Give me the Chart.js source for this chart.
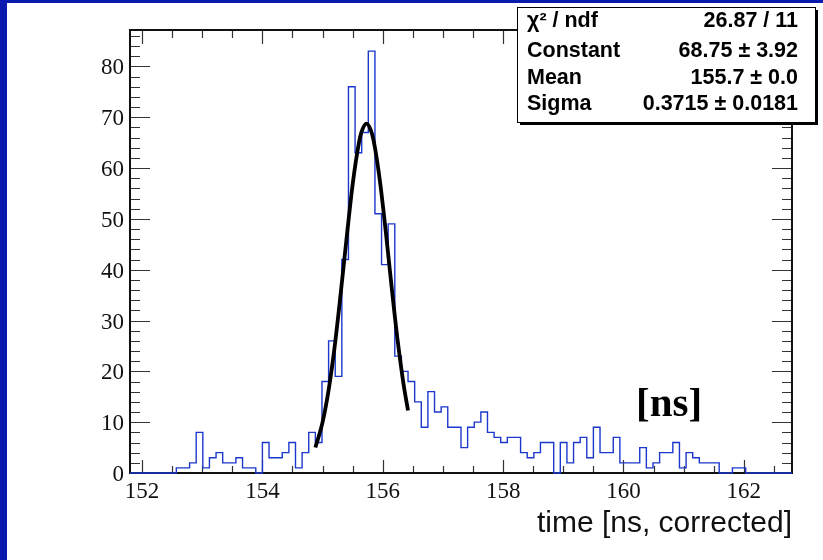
<!DOCTYPE html>
<html>
<head>
<meta charset="utf-8">
<script src="https://cdn.jsdelivr.net/npm/chart.js@4.4.1/dist/chart.umd.min.js"></script>
<style>
  html, body { margin: 0; padding: 0; }
  body { width: 823px; height: 560px; background: #0a1aae; position: relative; overflow: hidden; }
  #wrap { position: absolute; left: 7px; top: 3px; width: 816px; height: 557px; background: #fff; }
</style>
</head>
<body>
<div id="wrap"><canvas id="myChart" width="816" height="557"></canvas></div>
<script>
// histogram: 100 bins from 151.8, width 0.11 ns
const binLow = 151.8;
const binWidth = 0.11;
const counts = [
  0, 0, 0, 0, 0, 0, 0, 1, 1, 2,
  8, 1, 3, 4, 2, 2, 3, 1, 1, 0,
  6, 3, 3, 4, 6, 1, 4, 8, 6, 18,
  26, 19, 42, 76, 63, 67, 83, 51, 41, 49,
  23, 20, 18, 14, 9, 16, 12, 13, 9, 9,
  5, 9, 10, 12, 8, 7, 6, 7, 7, 4,
  3, 4, 6, 6, 0, 6, 2, 6, 7, 3,
  9, 4, 4, 7, 2, 2, 2, 5, 1, 2,
  4, 4, 6, 1, 4, 3, 2, 2, 2, 0,
  0, 1, 1, 0, 0, 0, 0, 0, 0, 0
];

// gaussian fit curve
const fitX = [154.88, 155.0, 155.1, 155.2, 155.3, 155.4, 155.5, 155.6, 155.65, 155.73, 155.8, 155.85, 155.95, 156.05, 156.15, 156.25, 156.35, 156.42];
const fitY = [5.0, 10.0, 16.3, 24.8, 35.2, 46.3, 56.8, 64.7, 67.2, 68.75, 67.5, 65.3, 57.7, 47.5, 36.3, 25.8, 17.1, 12.3];

const xTickValues = [152, 154, 156, 158, 160, 162];
const yTickValues = [0, 10, 20, 30, 40, 50, 60, 70, 80];

const statsLabels = ['\u03C7\u00B2 / ndf', 'Constant', 'Mean', 'Sigma'];
const statsValues = ['26.87 / 11', '68.75 \u00B1 3.92', '155.7 \u00B1 0.0', '0.3715 \u00B1 0.0181'];

const xTitle = 'time [ns, corrected]';
const unitLabel = '[ns]';

const xMin = binLow;
const xMax = binLow + counts.length * binWidth;
const yMax = Math.max(...counts) * 1.05;

let histPoints = counts.map((c, i) => ({x: binLow + i * binWidth, y: c}));
histPoints.push({x: xMax, y: counts[counts.length - 1]});
let fitPoints = fitX.map((x, i) => ({x: x, y: fitY[i]}));

// ROOT style frame with inward ticks on all four sides
const framePlugin = {
    id: 'frame',
    beforeDatasetsDraw(chart) {
        const {ctx, chartArea: a, scales} = chart;
        const xs = scales.x, ys = scales.y;
        ctx.save();
        ctx.strokeStyle = '#333';
        ctx.lineWidth = 1.2;
        ctx.beginPath();
        for (let v = 0; v <= yMax; v += 2) {
            const py = Math.round(ys.getPixelForValue(v)) + 0.5;
            const len = (v % 10 === 0) ? 20 : 10;
            ctx.moveTo(a.left, py); ctx.lineTo(a.left + len, py);
            ctx.moveTo(a.right, py); ctx.lineTo(a.right - len, py);
        }
        for (let k = Math.ceil(xMin * 2); k <= Math.floor(xMax * 2); k++) {
            const px = Math.round(xs.getPixelForValue(k / 2)) + 0.5;
            const major = (k % 4 === 0);
            ctx.moveTo(px, a.bottom); ctx.lineTo(px, a.bottom - (major ? 13 : 7));
            ctx.moveTo(px, a.top); ctx.lineTo(px, a.top + (major ? 14 : 8));
        }
        ctx.stroke();
        ctx.lineWidth = 2;
        ctx.strokeStyle = '#111';
        ctx.strokeRect(a.left, a.top, a.right - a.left, a.bottom - a.top);
        ctx.restore();
    },
    afterDraw(chart) {
        const ctx = chart.ctx;
        ctx.save();
        // unit label
        ctx.fillStyle = '#000';
        ctx.font = 'bold 41px "Liberation Serif"';
        ctx.textBaseline = 'alphabetic';
        ctx.textAlign = 'left';
        ctx.fillText(unitLabel, 629, 413);

        // stats box
        const bx = 510, by = 4, bw = 298, bh = 115;
        ctx.fillStyle = '#000';
        ctx.fillRect(bx + 3, by + 3, bw, bh);
        ctx.fillStyle = '#fff';
        ctx.fillRect(bx, by, bw, bh);
        ctx.strokeStyle = '#000';
        ctx.lineWidth = 1;
        ctx.strokeRect(bx + 0.5, by + 0.5, bw, bh);
        ctx.fillStyle = '#000';
        ctx.font = 'bold 21.5px "Liberation Sans"';
        const rows = [24, 54, 81, 107];
        statsLabels.forEach((t, i) => {
            ctx.textAlign = 'left';
            ctx.fillText(t, 520, rows[i]);
            ctx.textAlign = 'right';
            ctx.fillText(statsValues[i], 791, rows[i]);
        });
        ctx.restore();
    }
};

const tickFont = {family: '"Liberation Serif"', size: 23};

new Chart(document.getElementById('myChart'), {
    type: 'line',
    data: {
        datasets: [{
            data: fitPoints,
            borderColor: '#000',
            borderWidth: 3.8,
            pointRadius: 0,
            cubicInterpolationMode: 'monotone',
            order: 0
        }, {
            data: histPoints,
            borderColor: '#1c38cc',
            borderWidth: 1.4,
            pointRadius: 0,
            stepped: 'before',
            clip: 4,
            order: 1
        }]
    },
    options: {
        responsive: false,
        animation: false,
        devicePixelRatio: 1,
        layout: {padding: {left: 0, right: 31, top: 27, bottom: 0}},
        plugins: {legend: {display: false}, tooltip: {enabled: false}},
        scales: {
            x: {
                type: 'linear',
                min: xMin,
                max: xMax,
                grid: {display: false, drawTicks: false},
                border: {display: false},
                afterBuildTicks: s => { s.ticks = xTickValues.map(v => ({value: v})); },
                afterFit: s => { s.height = 87; },
                ticks: {font: tickFont, color: '#111', padding: 5, maxRotation: 0, autoSkip: false},
                title: {
                    display: true,
                    text: xTitle,
                    align: 'end',
                    color: '#111',
                    font: {family: '"Liberation Sans"', size: 30, lineHeight: 1.2},
                    padding: {top: 0, bottom: 18}
                }
            },
            y: {
                type: 'linear',
                min: 0,
                max: yMax,
                grid: {display: false, drawTicks: false},
                border: {display: false},
                afterBuildTicks: s => { s.ticks = yTickValues.map(v => ({value: v})); },
                afterFit: s => { s.width = 123; },
                ticks: {font: tickFont, color: '#111', padding: 6, labelOffset: 2, autoSkip: false}
            }
        }
    },
    plugins: [framePlugin]
});
</script>
</body>
</html>
